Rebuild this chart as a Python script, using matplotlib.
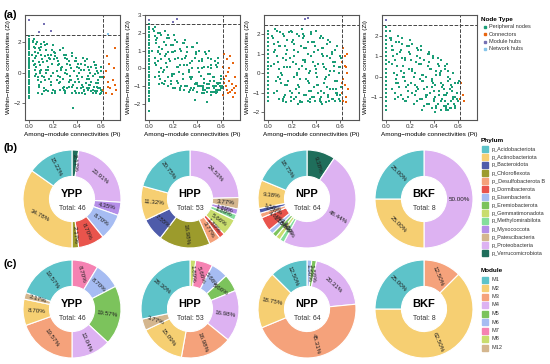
import numpy as np
import matplotlib.pyplot as plt
from matplotlib.patches import Rectangle

plt.rcParams['font.family'] = ['Liberation Sans', 'DejaVu Sans']

# ---------------- data: zi-pi scatter (4 panels) ----------------
col1_zi = [2.4, 2.25, 2.1, 1.95, 1.8, 1.7, 1.55, 1.4, 1.3, 1.15, 1.0, 0.85, 0.7, 0.55, 0.45, 0.3, 0.15,
           0.0, -0.15, -0.3, -0.45, -0.6, -0.75, -0.9, -1.05, -1.2, -1.35, -1.5, -1.65]
p1_pi = [0.04, 0.06, 0.05, 0.07, 0.05, 0.08, 0.06, 0.09, 0.07, 0.1, 0.08, 0.12, 0.12, 0.14, 0.13, 0.15,
         0.16, 0.14, 0.17, 0.18, 0.2, 0.2, 0.22, 0.21, 0.24, 0.23, 0.26, 0.25, 0.28, 0.3, 0.28, 0.3,
         0.32, 0.31, 0.34, 0.33, 0.36, 0.38, 0.36, 0.38, 0.4, 0.42, 0.41, 0.44, 0.46, 0.47, 0.45, 0.47,
         0.5, 0.49, 0.52, 0.5, 0.53, 0.54, 0.56, 0.55, 0.58, 0.57, 0.6, 0.59, 0.61, 0.6, 0.37, 0.1,
         0.18, 0.27, 0.35, 0.43, 0.51, 0.57, 0.11, 0.19, 0.29, 0.39, 0.48, 0.55]
p1_zi = [2.2, 1.9, 1.6, 1.3, 1.0, 0.7, 0.4, 0.1, -0.3, -0.6, -0.9, -1.2, 2.0, 1.5, 1.1, 0.8,
         0.4, 0.0, -0.4, -0.8, -1.1, 1.8, 1.3, 0.9, 0.5, 0.1, -0.3, -0.7, -1.0, -1.3, 1.6, 1.0,
         0.6, 0.2, -0.2, -0.6, -0.9, -1.2, 1.3, 0.8, 0.4, 0.0, -0.4, -0.8, -1.1, -1.4, 1.0, 0.5,
         0.2, -0.2, -0.6, -1.0, -1.3, 0.7, 0.3, -0.1, -0.5, -0.9, -1.1, -1.4, -0.3, 0.1, -2.3, 1.7,
         1.2, 0.3, -0.5, -1.0, -0.8, -1.2, -1.4, -1.3, -1.1, -1.3, -1.0, -1.2]
p1_pi_b = [0.03, 0.04, 0.05, 0.06, 0.03, 0.04, 0.05, 0.06, 0.07, 0.08, 0.09, 0.1, 0.11, 0.09, 0.1,
           0.11, 0.13, 0.12, 0.15, 0.17, 0.19, 0.16, 0.18, 0.21, 0.23, 0.25, 0.27, 0.24, 0.26, 0.29,
           0.31, 0.33, 0.35, 0.32, 0.34, 0.37, 0.39, 0.41, 0.43, 0.4, 0.42, 0.45, 0.47, 0.49, 0.51,
           0.48, 0.5, 0.53, 0.55, 0.57, 0.59, 0.56, 0.58, 0.6, 0.52, 0.44, 0.36, 0.3, 0.22, 0.14]
p1_zi_b = [2.0, 1.7, 1.4, 1.1, 0.8, 0.5, 0.2, -0.1, -0.5, -0.8, 1.5, 1.2, 0.9, 0.5, 0.2,
           -0.2, -0.5, -1.0, 1.9, 1.0, 0.6, 0.2, -0.2, 1.4, 1.0, 0.6, 0.2, -0.2, -0.6, -0.9,
           1.2, 0.8, 0.3, -0.1, -0.5, -0.8, 1.0, 0.6, 0.2, -0.2, -0.6, -0.9, 0.8, 0.4, 0.0,
           -0.4, -0.8, -1.1, 0.5, 0.1, -0.3, -0.7, -1.0, -1.3, -1.2, -1.3, -1.3, -1.2, -1.2, -1.1]
# a third batch of peripheral nodes, Pi read along the x axis
pi_c = [0.02, 0.03, 0.045, 0.05, 0.065, 0.07, 0.085, 0.09, 0.1, 0.115, 0.12, 0.135, 0.14, 0.155,
        0.16, 0.175, 0.18, 0.195, 0.2, 0.215, 0.22, 0.235, 0.24, 0.255, 0.26, 0.275, 0.28, 0.295,
        0.3, 0.315, 0.32, 0.335, 0.34, 0.355, 0.36, 0.375, 0.38, 0.395, 0.4, 0.415, 0.42, 0.435,
        0.44, 0.455, 0.46, 0.475, 0.48, 0.495, 0.5, 0.515, 0.52, 0.535, 0.54, 0.555, 0.56, 0.575,
        0.58, 0.595, 0.6, 0.61]
p1_zi_c = [1.2, 2.1, -0.2, 0.6, 2.0, -1.3, 1.6, 0.0, 1.9, 0.7, -0.3, 1.8, 0.2, -1.2, 1.2, 0.9,
           -0.6, 1.5, 0.0, -1.3, 1.1, -0.5, 0.8, 1.5, -1.1, 0.4, -0.4, 1.2, 0.0, -1.0, 0.9, -0.9,
           0.5, 1.1, -1.3, 0.1, -0.6, 0.8, -1.0, 0.3, -1.3, 0.6, -0.3, -1.2, 0.2, -0.7, 0.9, -1.1,
           -0.4, 0.4, -1.2, -0.2, -0.9, 0.5, -1.3, 0.0, -0.7, -1.0, 0.4, -1.2]
c1_pi = [0.65, 0.72, 0.64, 0.66, 0.7, 0.73, 0.68, 0.62, 0.72, 0.63, 0.67, 0.69, 0.64, 0.71, 0.66]
c1_zi = [1.1, 1.6, 0.1, -0.6, -0.5, -1.1, -1.0, -1.1, -0.8, -0.3, 0.6, -1.4, -1.3, 0.3, -0.9]
m1_pi = [0.0, 0.12, 0.08, 0.18]
m1_zi = [3.47, 3.2, 2.67, 2.73]
n1_pi = [0.66]
n1_zi = [2.55]

col2_zi = [2.5, 2.35, 2.2, 2.05, 1.9, 1.75, 1.6, 1.45, 1.3, 1.15, 1.0, 0.85, 0.7, 0.55, 0.4, 0.25, 0.1,
           -0.05, -0.2, -0.35, -0.5, -0.65, -0.8, -0.95, -1.1, -1.25, -1.4, -1.55, -1.7, -1.85, -2.4]
p2_pi = [0.05, 0.07, 0.06, 0.08, 0.09, 0.07, 0.1, 0.08, 0.11, 0.13, 0.15, 0.14, 0.16, 0.17, 0.15, 0.19,
         0.18, 0.21, 0.23, 0.22, 0.24, 0.26, 0.25, 0.28, 0.27, 0.3, 0.32, 0.31, 0.34, 0.33, 0.36, 0.38,
         0.37, 0.4, 0.39, 0.42, 0.44, 0.43, 0.46, 0.45, 0.48, 0.5, 0.49, 0.52, 0.51, 0.54, 0.56, 0.55,
         0.58, 0.57, 0.6, 0.59, 0.61, 0.48, 0.38, 0.12, 0.2, 0.29, 0.35, 0.41, 0.47, 0.53, 0.58, 0.44,
         0.52, 0.57, 0.6]
p2_zi = [2.3, 2.0, 1.6, 1.2, 0.8, 0.4, 0.0, -0.4, -0.8, 2.1, 1.7, 1.3, 0.9, 0.5, 0.1, -0.3,
         -0.7, 1.9, 1.5, 1.0, 0.6, 0.2, -0.2, -0.6, -1.0, 1.6, 1.2, 0.7, 0.3, -0.1, -0.5, -0.9,
         -1.2, 1.4, 0.9, 0.4, 0.0, -0.4, -0.8, -1.1, -1.3, 1.0, 0.6, 0.2, -0.3, -0.7, -1.0, -1.3,
         0.6, 0.1, -0.4, -0.8, -1.1, -1.9, -1.8, -0.9, -1.1, -1.2, -1.1, -1.0, -1.2, -1.0, -1.2, -1.4,
         -1.5, -1.3, -1.0]
p2_pi_b = [0.04, 0.05, 0.06, 0.07, 0.05, 0.06, 0.08, 0.09, 0.1, 0.12, 0.11, 0.13, 0.14, 0.12, 0.16,
           0.18, 0.17, 0.2, 0.19, 0.22, 0.24, 0.21, 0.23, 0.26, 0.28, 0.27, 0.3, 0.29, 0.33, 0.35,
           0.32, 0.34, 0.37, 0.39, 0.36, 0.41, 0.43, 0.4, 0.42, 0.45, 0.47, 0.44, 0.46, 0.49, 0.51,
           0.48, 0.5, 0.53, 0.55, 0.52, 0.54, 0.57, 0.59, 0.56, 0.58, 0.6, 0.4, 0.45, 0.5, 0.55]
p2_zi_b = [2.1, 1.8, 1.4, 1.0, 0.6, 0.2, -0.2, -0.6, 1.9, 1.5, 1.1, 0.7, 0.3, -0.1, -0.5,
           -0.9, 1.7, 1.3, 0.9, 0.5, 0.1, -0.3, -0.7, -1.1, 1.4, 1.0, 0.6, 0.2, -0.2, -0.6,
           -1.0, -1.2, 1.2, 0.8, 0.4, 0.0, -0.4, -0.8, -1.0, -1.2, 0.9, 0.5, 0.1, -0.3, -0.7,
           -0.9, -1.1, -1.3, 0.4, 0.0, -0.5, -0.8, -1.0, -1.2, -0.9, -1.1, -0.9, -1.0, -0.9, -1.0]
p2_zi_c = [1.0, 2.2, 0.3, -0.5, 1.7, 0.9, -0.9, 2.0, 0.5, -0.2, 1.5, -0.7, 0.8, 1.9, -1.0, 0.4,
           1.3, -0.4, 0.9, -1.1, 1.6, 0.1, -0.8, 1.1, -1.2, 0.5, -0.3, 1.4, -1.0, 0.2, 0.9, -1.3,
           -0.5, 1.2, 0.0, -1.1, 0.6, -0.8, -1.3, 1.0, -0.2, -1.0, 0.4, -1.4, -0.6, 0.8, -1.1, 0.1,
           -0.9, -1.3, 0.5, -0.5, -1.1, 0.2, -1.4, -0.8, 0.3, -1.2, -0.6, -1.0]
c2_pi = [0.63, 0.65, 0.68, 0.62, 0.66, 0.7, 0.72, 0.64, 0.67, 0.69, 0.71, 0.63, 0.65, 0.68, 0.73,
         0.62, 0.66, 0.7, 0.64, 0.69, 0.72, 0.67, 0.63]
c2_zi = [0.8, 0.5, 0.7, 0.1, -0.2, 0.3, -0.5, -0.4, -0.7, -0.9, -1.1, -0.8, -1.2, -1.3, -1.0,
         -1.5, -1.4, -1.6, -1.0, -1.2, -1.4, 0.0, -0.6]
m2_pi = [0.0, 0.2, 0.23]
m2_zi = [2.72, 2.63, 2.76]

col3_zi = [2.2, 2.0, 1.8, 1.6, 1.4, 1.2, 1.0, 0.8, 0.6, 0.4, 0.2, 0.0, -0.2, -0.4, -0.6, -0.8,
           -1.0, -1.2, -1.4]
p3_pi = [0.04, 0.06, 0.05, 0.08, 0.07, 0.1, 0.09, 0.12, 0.11, 0.14, 0.13, 0.16, 0.15, 0.18, 0.17, 0.2,
         0.19, 0.22, 0.21, 0.24, 0.23, 0.26, 0.25, 0.28, 0.27, 0.3, 0.29, 0.32, 0.31, 0.34, 0.33, 0.36,
         0.35, 0.38, 0.37, 0.4, 0.39, 0.42, 0.41, 0.44, 0.43, 0.46, 0.45, 0.48, 0.47, 0.5, 0.49, 0.52,
         0.51, 0.54, 0.53, 0.56, 0.55, 0.58, 0.57, 0.6, 0.59, 0.61, 0.12, 0.22, 0.33, 0.44, 0.5, 0.56,
         0.6, 0.27, 0.38, 0.47]
p3_zi = [1.8, 1.2, 0.5, -0.2, -0.9, 2.1, 1.4, 0.8, 0.0, -0.6, -1.2, 1.7, 1.0, 0.3, -0.4, -1.0,
         2.2, 1.5, 0.6, -0.1, -0.8, 1.9, 1.1, 0.4, -0.3, -1.1, 2.0, 1.3, 0.7, -0.5, 1.6, 0.9,
         0.1, -0.7, -1.2, 2.2, 1.4, 0.5, -0.2, -0.9, -1.3, 1.8, 1.0, 0.2, -0.5, -1.1, 1.5, 0.8,
         -0.1, -0.8, -1.3, 1.2, 0.4, -0.4, -1.0, 0.9, 0.0, -0.7, -1.4, -1.3, -1.4, -1.5, -1.2, -1.4,
         -1.1, -1.5, -1.2, -1.0]
p3_pi_b = [0.05, 0.07, 0.09, 0.11, 0.06, 0.08, 0.1, 0.12, 0.13, 0.15, 0.17, 0.19, 0.14, 0.16, 0.18,
           0.2, 0.21, 0.23, 0.25, 0.27, 0.22, 0.24, 0.26, 0.28, 0.29, 0.31, 0.33, 0.35, 0.3, 0.32,
           0.34, 0.36, 0.37, 0.39, 0.41, 0.43, 0.38, 0.4, 0.42, 0.44, 0.45, 0.47, 0.49, 0.51, 0.46,
           0.48, 0.5, 0.52, 0.53, 0.55, 0.57, 0.59, 0.54, 0.56, 0.58, 0.6, 0.15, 0.25, 0.35, 0.45]
p3_zi_b = [1.5, 0.9, 0.2, -0.5, 2.3, 1.6, -0.3, -1.3, 1.9, 0.7, -0.4, -1.2, 1.4, 0.3, -0.9,
           2.1, 1.7, 0.5, -0.6, -1.4, 1.2, 0.0, -1.0, 2.3, 1.8, 0.6, -0.4, -1.3, 1.3, 0.2,
           -0.9, 2.0, 1.6, 0.4, -0.6, -1.4, 1.1, 0.0, -1.0, 1.9, 1.3, 0.3, -0.7, -1.4, 0.9,
           -0.2, -1.1, 1.6, 1.0, 0.1, -0.8, -1.3, 0.6, -0.4, -1.1, 0.3, -1.5, -1.6, -1.5, -1.6]
p3_zi_c = [0.4, 1.9, -1.0, 1.1, -0.4, 2.2, 0.6, -1.3, 1.4, -0.1, 2.0, 0.3, -1.1, 1.2, -0.6, 2.1,
           0.8, -1.4, 1.6, -0.2, 0.9, -1.2, 2.0, 0.2, -0.7, 1.4, -1.5, 0.7, 1.9, -0.3, -1.1, 1.0,
           0.0, 2.1, -0.9, 0.6, 1.6, -1.4, 0.2, 1.2, -0.6, 1.8, -1.2, 0.5, 1.3, -0.3, -1.5, 0.9,
           1.7, -0.8, 0.1, 1.1, -1.3, 0.6, -0.4, 1.4, -1.0, 0.3, -1.4, 0.8]
c3_pi = [0.63, 0.64, 0.62, 0.65, 0.66, 0.63, 0.64, 0.67, 0.62, 0.65, 0.63, 0.66, 0.64, 0.62, 0.65]
c3_zi = [1.3, 0.9, 0.6, 0.3, 0.0, -0.3, -0.6, -0.8, -1.0, -1.2, -1.4, 1.0, 0.4, -0.5, -1.5]
m3_pi = [0.31, 0.33]
m3_zi = [2.78, 2.85]

col4_zi = [2.4, 2.2, 2.0, 1.8, 1.6, 1.4, 1.2, 1.0, 0.8, 0.6, 0.4, 0.2, 0.0, -0.2, -0.4, -0.6,
           -0.8, -1.0, -1.2, -1.4, -1.6]
p4_pi = [0.04, 0.06, 0.05, 0.08, 0.07, 0.1, 0.09, 0.12, 0.11, 0.14, 0.13, 0.16, 0.15, 0.18, 0.17, 0.2,
         0.19, 0.22, 0.21, 0.24, 0.23, 0.26, 0.25, 0.28, 0.27, 0.3, 0.29, 0.32, 0.31, 0.34, 0.33, 0.36,
         0.35, 0.38, 0.37, 0.4, 0.39, 0.42, 0.41, 0.44, 0.43, 0.46, 0.45, 0.48, 0.47, 0.5, 0.49, 0.52,
         0.51, 0.54, 0.53, 0.56, 0.55, 0.58, 0.57, 0.6, 0.59, 0.41, 0.46, 0.52]
p4_zi = [1.9, 1.3, 0.6, -0.1, -0.8, 2.0, 1.1, 0.3, -0.5, -1.1, 1.6, 0.9, 0.0, -0.7, -1.2, 1.8,
         1.2, 0.4, -0.3, -0.9, -1.3, 1.4, 0.7, -0.1, -0.6, -1.1, 1.5, 0.8, 0.1, -0.5, -1.0, 1.1,
         0.5, -0.2, -0.8, -1.2, 1.0, 0.3, -0.4, -0.9, -1.3, 0.8, 0.1, -0.6, -1.1, -1.4, 0.4, -0.2,
         -0.8, -1.2, -1.5, 0.2, -0.5, -1.0, -1.3, -0.3, -1.1, -1.7, -1.6, -1.6]
p4_pi_b = [0.03, 0.05, 0.07, 0.09, 0.04, 0.06, 0.08, 0.1, 0.11, 0.13, 0.15, 0.17, 0.12, 0.14, 0.16,
           0.18, 0.19, 0.21, 0.23, 0.25, 0.2, 0.22, 0.24, 0.26, 0.27, 0.29, 0.31, 0.33, 0.28, 0.3,
           0.32, 0.34, 0.35, 0.37, 0.39, 0.41, 0.36, 0.38, 0.4, 0.42, 0.43, 0.45, 0.47, 0.49, 0.44,
           0.46, 0.48, 0.5, 0.51, 0.53, 0.55, 0.57, 0.52, 0.54, 0.56, 0.58, 0.3, 0.38, 0.5, 0.6]
p4_zi_b = [2.2, 1.5, 0.8, 0.1, 1.8, 1.0, -0.3, -1.0, 1.7, 0.9, 0.2, -0.5, 1.3, 0.5, -0.2,
           -1.0, 1.5, 0.8, 0.0, -0.7, 1.1, 0.3, -0.4, -1.2, 1.3, 0.6, -0.2, -0.9, 0.9, 0.1,
           -0.6, -1.3, 1.1, 0.4, -0.3, -1.0, 0.7, -0.1, -0.7, -1.4, 0.9, 0.2, -0.5, -1.2, 0.5,
           -0.3, -0.9, -1.5, 0.6, -0.1, -0.7, -1.3, 0.3, -0.4, -1.0, -1.5, -1.6, -1.5, -1.6, -1.2]
p4_zi_c = [0.7, 1.9, -0.6, 1.3, 0.2, -1.1, 1.7, 0.5, -0.3, 1.2, -0.9, 1.9, 0.0, 0.8, -1.2, 1.5,
           -0.4, 0.4, 1.1, -0.8, 1.6, -1.3, 0.2, 1.0, -0.5, 0.6, -1.1, 1.3, -0.2, -1.4, 0.8, 0.0,
           -0.9, 1.2, -1.3, 0.4, -0.5, 0.9, -1.1, 0.1, -1.5, 0.6, -0.7, -1.2, 0.3, -0.4, -1.4, 0.5,
           -0.9, -1.3, 0.0, -0.6, -1.5, 0.2, -1.1, -0.3, -1.4, -0.8, -1.2, -0.2]
c4_pi = [0.63, 0.64, 0.62, 0.65]
c4_zi = [-0.3, -0.9, -1.1, -1.2]
m4_pi = [0.0]
m4_zi = [2.75]

# ---------------- data: donuts ----------------
sites = ['YPP', 'HPP', 'NPP', 'BKF']
phyla = ['p_Acidobacteriota', 'p_Actinobacteriota', 'p_Bacteroidota', 'p_Chloroflexota',
         'p_Desulfobacterota B', 'p_Dormibacterota', 'p_Eisenbacteria', 'p_Eremiobacterota',
         'p_Gemmatimonadota', 'p_Methylomirabilota', 'p_Myxococcota', 'p_Patescibacteria',
         'p_Proteobacteria', 'p_Verrucomicrobiota']
phylum_colors = ['#5DC3C9', '#F6CF72', '#4E5BAA', '#9C9B2C', '#F5A27B', '#E9544C', '#A6BCF2',
                 '#7CC35C', '#C9DD6E', '#84DE9C', '#B58EE8', '#D4B68E', '#DDB2F2', '#1F6E5B']
ypp_phylum = [7, 16, 0, 1, 0, 4, 4, 0, 0, 0, 2, 0, 11, 1]
hpp_phylum = [11, 6, 4, 9, 2, 1, 0, 0, 3, 1, 1, 2, 13, 0]
npp_phylum = [12, 6, 1, 0, 1, 3, 1, 1, 1, 1, 0, 0, 31, 6]
bkf_phylum = [2, 2, 0, 0, 0, 0, 0, 0, 0, 0, 0, 0, 4, 0]

modules = ['M1', 'M12', 'M2', 'M3', 'M4', 'M5', 'M6', 'M7', 'M8']
module_colors = ['#5DC3C9', '#D4B68E', '#F6CF72', '#F5A27B', '#DDB2F2', '#7CC35C', '#A6BCF2',
                 '#F582B2', '#C9DD6E']
legend_modules = ['M1', 'M2', 'M3', 'M4', 'M5', 'M6', 'M7', 'M8', 'M12']
ypp_module = [9, 1, 4, 9, 6, 9, 4, 4, 0]
hpp_module = [15, 2, 8, 9, 9, 3, 3, 3, 1]
npp_module = [8, 0, 12, 29, 13, 1, 1, 0, 0]
bkf_module = [2, 0, 5, 1, 0, 0, 0, 0, 0]

node_types = ['Peripheral nodes', 'Connectors', 'Module hubs', 'Network hubs']
node_colors = ['#1B9E77', '#E8650F', '#7570B3', '#86C5EA']

# ---------------- figure ----------------
W, H = 550, 364
fig = plt.figure(figsize=(W / 100, H / 100), dpi=100)


def px_axes(l, t, w, h):
    return fig.add_axes([l / W, 1 - (t + h) / H, w / W, h / H])


scatter_sets = [
    (col1_zi, p1_pi + p1_pi_b + pi_c, p1_zi + p1_zi_b + p1_zi_c, c1_pi, c1_zi, m1_pi, m1_zi, n1_pi, n1_zi),
    (col2_zi, p2_pi + p2_pi_b + pi_c, p2_zi + p2_zi_b + p2_zi_c, c2_pi, c2_zi, m2_pi, m2_zi, [], []),
    (col3_zi, p3_pi + p3_pi_b + pi_c, p3_zi + p3_zi_b + p3_zi_c, c3_pi, c3_zi, m3_pi, m3_zi, [], []),
    (col4_zi, p4_pi + p4_pi_b + pi_c, p4_zi + p4_zi_b + p4_zi_c, c4_pi, c4_zi, m4_pi, m4_zi, [], []),
]
lefts = [25, 145, 264, 382]
ylims = [(-3.1, 3.8), (-2.9, 3.0), (-2.4, 3.0), (-2.1, 3.0)]
yticks = [[-2, 0, 2], [-2, -1, 0, 1, 2, 3], [-2, -1, 0, 1, 2], [-1, 0, 1, 2]]
ms = 3.2

for k, (col, ppi, pzi, cpi, czi, mpi, mzi, npi, nzi) in enumerate(scatter_sets):
    ax = px_axes(lefts[k], 15, 95, 105)
    ax.scatter(np.zeros(len(col)), col, s=ms, color=node_colors[0], linewidths=0, marker='s')
    ax.scatter(ppi, pzi, s=ms, color=node_colors[0], linewidths=0, marker='s')
    ax.scatter(cpi, czi, s=ms, color=node_colors[1], linewidths=0, marker='s')
    ax.scatter(mpi, mzi, s=ms, color=node_colors[2], linewidths=0, marker='s')
    if npi:
        ax.scatter(npi, nzi, s=ms, color=node_colors[3], linewidths=0, marker='s')
    ax.axhline(2.5, color='#444444', ls='--', lw=0.7)
    ax.axvline(0.62, color='#444444', ls='--', lw=0.7)
    ax.set_xlim(-0.035, 0.76)
    ax.set_ylim(*ylims[k])
    ax.set_xticks([0.0, 0.2, 0.4, 0.6])
    ax.set_xticklabels(['0.0', '0.2', '0.4', '0.6'])
    ax.set_yticks(yticks[k])
    ax.tick_params(labelsize=4.5, length=2, width=0.5, pad=1, colors='#333333')
    for sp in ax.spines.values():
        sp.set_color('#555555')
        sp.set_linewidth(0.8)
    ax.set_xlabel('Among\u2212module connectivities (Pi)', fontsize=4.6, labelpad=2)
    ax.set_ylabel('Within\u2212module connectivities (Zi)', fontsize=4.6, labelpad=2)

fig.text(4 / W, 1 - 15 / H, '(a)', fontsize=8, fontweight='bold', va='center')
fig.text(4 / W, 1 - 148 / H, '(b)', fontsize=8, fontweight='bold', va='center')
fig.text(4 / W, 1 - 264 / H, '(c)', fontsize=8, fontweight='bold', va='center')


def donut(cx, cy, r, counts, colors, site):
    ax = px_axes(cx - r, cy - r, 2 * r, 2 * r)
    order = [i for i in range(len(counts))[::-1] if counts[i] > 0]
    vals = [counts[i] for i in order]
    cols = [colors[i] for i in order]
    ax.pie(vals, colors=cols, startangle=90, counterclock=False, radius=1,
           wedgeprops=dict(width=0.54, edgecolor='white', linewidth=0.8))
    tot = sum(vals)
    cum = 0
    for v in vals:
        mid = 360 * (cum + v / 2) / tot
        cum += v
        a = np.deg2rad(90 - mid)
        rot = (90 - mid) % 180
        if rot > 90:
            rot -= 180
        rot = -abs(rot)
        ax.text(0.73 * np.cos(a), 0.73 * np.sin(a), f'{100 * v / tot:.2f}%', fontsize=4.5,
                rotation=rot, rotation_mode='anchor', ha='center', va='center', color='#222222')
    ax.text(0, 0.1, site, fontsize=8, fontweight='bold', ha='center', va='center')
    ax.text(0, -0.2, f'Total: {tot}', fontsize=5, ha='center', va='center', color='#333333')
    ax.set_xlim(-1, 1)
    ax.set_ylim(-1, 1)
    ax.set_aspect('equal')
    ax.axis('off')


pie_x = [72, 190, 307, 424]
for k, cnt in enumerate([ypp_phylum, hpp_phylum, npp_phylum, bkf_phylum]):
    donut(pie_x[k], 199, 49, cnt, phylum_colors, sites[k])
for k, cnt in enumerate([ypp_module, hpp_module, npp_module, bkf_module]):
    donut(pie_x[k], 309, 49, cnt, module_colors, sites[k])


# ---------------- legends ----------------
def legend_block(x, y, title, labels, colors, step, square=True):
    fig.text(x / W, 1 - y / H, title, fontsize=4.6, fontweight='bold', va='center')
    for i, (lab, c) in enumerate(zip(labels, colors)):
        yy = y + step * (i + 1)
        if square:
            fig.patches.append(Rectangle(((x + 1) / W, 1 - (yy + 3) / H), 6 / W, 6 / H,
                                         transform=fig.transFigure, color=c))
            fig.text((x + 11) / W, 1 - yy / H, lab, fontsize=4.0, va='center', color='#333333')
        else:
            fig.patches.append(Rectangle(((x + 2.5) / W, 1 - (yy + 1) / H), 2 / W, 2 / H,
                                         transform=fig.transFigure, color=c))
            fig.text((x + 8) / W, 1 - yy / H, lab, fontsize=4.0, va='center', color='#333333')


legend_block(481, 19, 'Node Type', node_types, node_colors, 7.5, square=False)
legend_block(481, 141, 'Phylum', phyla, phylum_colors, 8.0)
legend_block(481, 271, 'Module', legend_modules,
             [module_colors[modules.index(m)] for m in legend_modules], 8.5)

fig.savefig('out.png', dpi=100)
